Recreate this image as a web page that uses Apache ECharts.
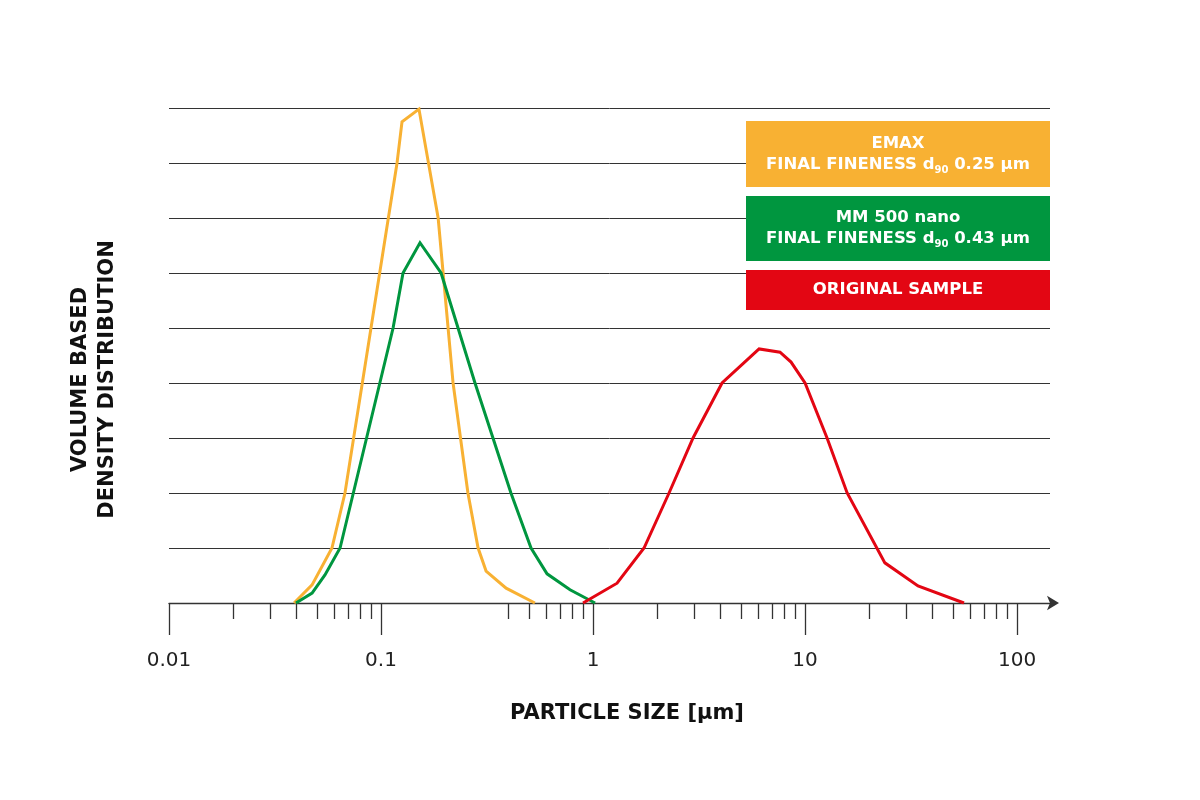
<!DOCTYPE html>
<html>
<head>
<meta charset="utf-8">
<title>Particle size distribution</title>
<script src="https://cdn.jsdelivr.net/npm/echarts@6/dist/echarts.min.js"></script>
<style>
html, body { margin: 0; padding: 0; background: #fff; }
#main { width: 1200px; height: 800px; }
</style>
</head>
<body>
<div id="main"></div>
<script>
// axis ticks (µm, log scale)
var xMajorTicks = [0.01, 0.1, 1, 10, 100];
var xMinorTicks = [0.02, 0.03, 0.04, 0.05, 0.06, 0.07, 0.08, 0.09,
                   0.4, 0.5, 0.6, 0.7, 0.8, 0.9,
                   2, 3, 4, 5, 6, 7, 8, 9,
                   20, 30, 40, 50, 60, 70, 80, 90];

// EMAX, d90 0.25 µm
var emaxSize    = [0.0389, 0.0473, 0.0587, 0.0676, 0.119, 0.1256, 0.151, 0.186, 0.2187, 0.257, 0.287, 0.313, 0.389, 0.532];
var emaxDensity = [0, 0.33, 1.0, 2.0, 8.0, 8.75, 8.98, 7.0, 4.0, 2.0, 1.0, 0.58, 0.27, 0];

// MM 500 nano, d90 0.43 µm
var mmSize    = [0.0397, 0.0473, 0.0544, 0.0641, 0.114, 0.127, 0.1527, 0.192, 0.2775, 0.41, 0.51, 0.607, 0.779, 1.022];
var mmDensity = [0, 0.18, 0.51, 1.0, 5.0, 6.0, 6.55, 6.0, 4.0, 2.0, 1.0, 0.53, 0.24, 0];

// original sample
var origSize    = [0.897, 1.298, 1.74, 2.283, 2.963, 4.06, 6.07, 7.62, 8.59, 10.0, 12.7, 15.8, 23.8, 34.1, 56.2];
var origDensity = [0, 0.36, 1.0, 2.0, 3.0, 4.0, 4.62, 4.56, 4.38, 4.0, 3.0, 2.0, 0.73, 0.31, 0];

var seriesNames = ['EMAX', 'MM 500 nano', 'ORIGINAL SAMPLE'];
var seriesColors = ['#F8B133', '#00963F', '#E30613'];
var legendLines = [
    'EMAX\nFINAL FINENESS d{s|90} 0.25 µm',
    'MM 500 nano\nFINAL FINENESS d{s|90} 0.43 µm',
    'ORIGINAL SAMPLE'
];

var fontName = '"DejaVu Sans"';
var lineCol = '#333333';

function pairs(xs, ys){
    var out = [];
    for(var i=0;i<xs.length;i++){
        out.push([xs[i], ys[i]]);
    }
    return out;
}

function makeLine(idx, xs, ys){
    return {
        name: seriesNames[idx],
        type: 'line',
        data: pairs(xs, ys),
        showSymbol: false,
        symbol: 'none',
        lineStyle: { color: seriesColors[idx], width: 3, join: 'miter' },
        itemStyle: { color: seriesColors[idx] }
    };
}

// legend boxes (drawn as graphic, the text has a subscript)
var boxes = [
    { y: 121, h: 66 },
    { y: 196, h: 65 },
    { y: 270, h: 40 }
];
var graphicArr = [];
for(var b=0;b<boxes.length;b++){
    graphicArr.push({
        type: 'rect',
        z: 100,
        shape: { x: 746, y: boxes[b].y, width: 304, height: boxes[b].h },
        style: { fill: seriesColors[b] }
    });
    graphicArr.push({
        type: 'text',
        z: 101,
        x: 898,
        y: boxes[b].y + boxes[b].h / 2,
        style: {
            text: legendLines[b],
            fill: '#ffffff',
            font: 'bold 16.5px ' + fontName,
            align: 'center',
            verticalAlign: 'middle',
            lineHeight: 21,
            rich: {
                s: { font: 'bold 10px ' + fontName, fill: '#ffffff', lineHeight: 9, verticalAlign: 'bottom' }
            }
        }
    });
}

var chart = echarts.init(document.getElementById('main'));
var option = {
    animation: false,
    backgroundColor: '#ffffff',
    grid: { left: 169, right: 150, top: 108, bottom: 197 },
    xAxis: [
        {
            type: 'log',
            min: 0.01,
            max: 143,
            position: 'bottom',
            name: 'PARTICLE SIZE [µm]',
            nameLocation: 'middle',
            nameGap: 100,
            nameTextStyle: {
                color: '#111', fontFamily: fontName, fontWeight: 'bold', fontSize: 21,
                padding: [0, 0, 0, 35]
            },
            axisLine: {
                show: true,
                lineStyle: { color: lineCol, width: 1.3 },
                symbol: ['none', 'arrow'],
                symbolSize: [11, 12],
                symbolOffset: [0, 9]
            },
            axisTick: { show: true, length: 32, customValues: xMajorTicks, lineStyle: { color: lineCol, width: 1.3 } },
            axisLabel: {
                customValues: xMajorTicks,
                margin: 48,
                color: '#222',
                fontFamily: fontName,
                fontSize: 20,
                formatter: function(v){ return String(+(+v).toPrecision(6)); }
            },
            splitLine: { show: false },
            minorTick: { show: false }
        },
        {
            type: 'log',
            min: 0.01,
            max: 143,
            position: 'bottom',
            axisLine: { show: false },
            axisTick: { show: true, length: 16, customValues: xMinorTicks, lineStyle: { color: lineCol, width: 1.3 } },
            axisLabel: { show: false },
            splitLine: { show: false }
        }
    ],
    yAxis: {
        type: 'value',
        min: 0,
        max: 9,
        interval: 1,
        name: 'VOLUME BASED\nDENSITY DISTRIBUTION',
        nameLocation: 'middle',
        nameRotate: 90,
        nameGap: 48,
        nameTextStyle: {
            color: '#111', fontFamily: fontName, fontWeight: 'bold', fontSize: 21, lineHeight: 27,
            padding: [0, 48, 0, 0]
        },
        axisLine: { show: false },
        axisTick: { show: false },
        axisLabel: { show: false },
        splitLine: { show: true, lineStyle: { color: lineCol, width: 1 } }
    },
    series: [
        makeLine(0, emaxSize, emaxDensity),
        makeLine(1, mmSize, mmDensity),
        makeLine(2, origSize, origDensity)
    ],
    graphic: graphicArr
};
chart.setOption(option);
</script>
</body>
</html>
